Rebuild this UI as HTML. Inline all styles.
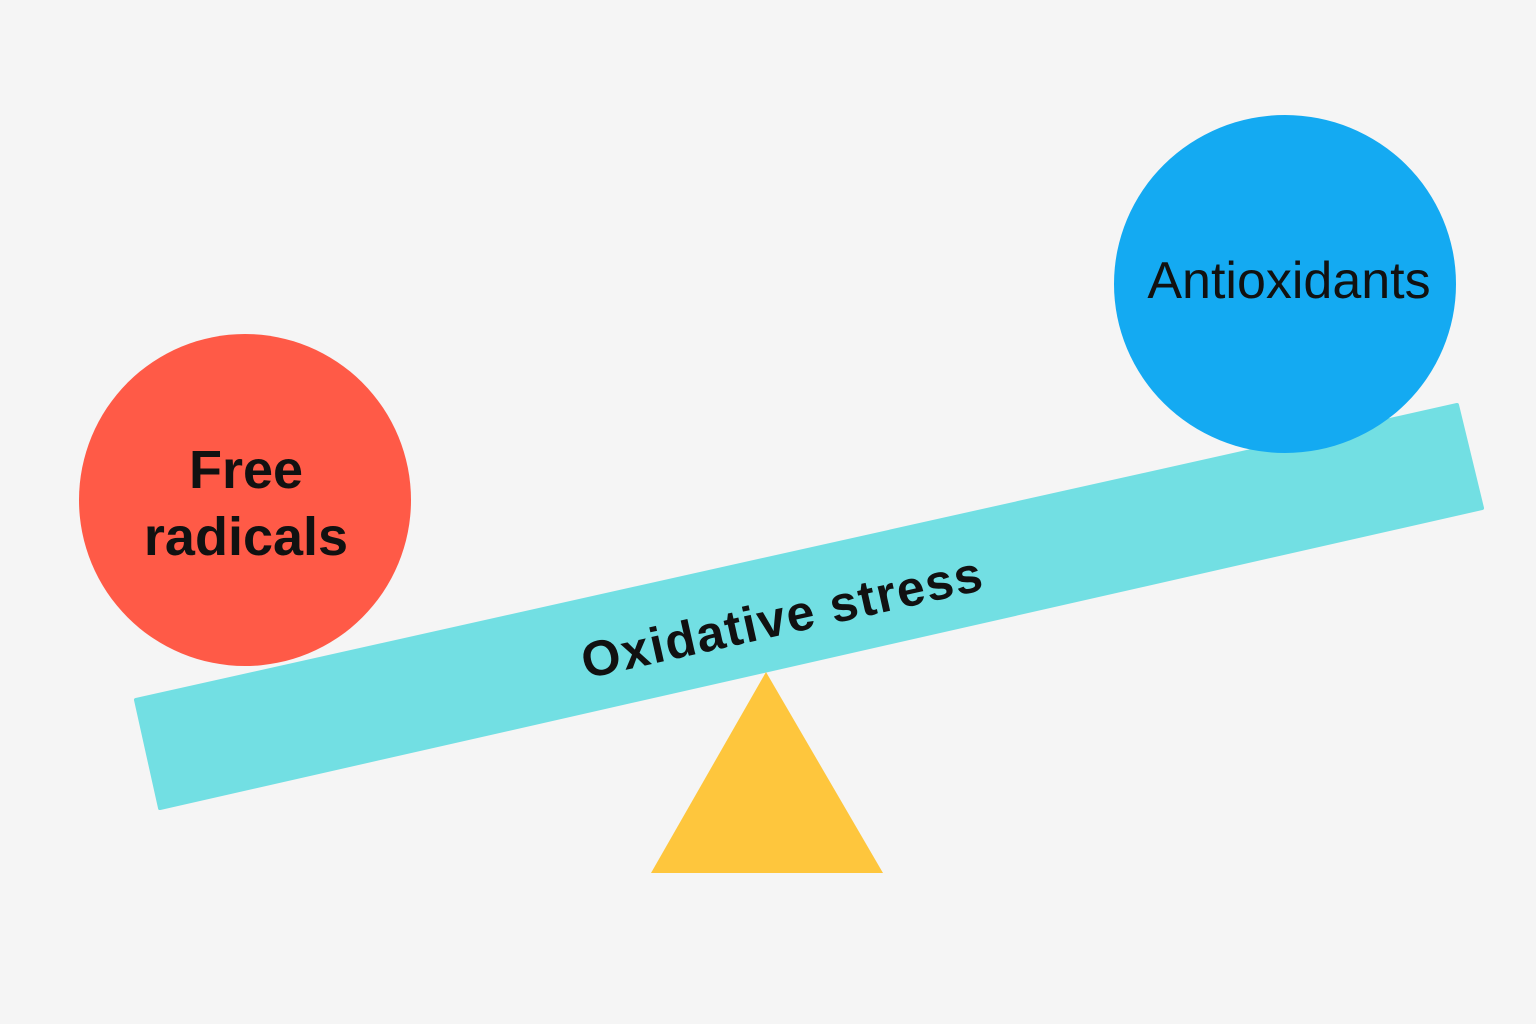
<!DOCTYPE html>
<html><head><meta charset="utf-8"><style>
html,body{margin:0;padding:0;background:#F5F5F5;}
svg{display:block;}
text{font-family:"Liberation Sans","DejaVu Sans",sans-serif;fill:#111;}
</style></head><body>
<svg width="1536" height="1024" viewBox="0 0 1536 1024" xmlns="http://www.w3.org/2000/svg">
<rect width="1536" height="1024" fill="#F5F5F5"/>
<polygon points="136,700 1457,405 1482,508 160,808" fill="#72DFE3" stroke="#72DFE3" stroke-width="4" stroke-linejoin="round"/>
<polygon points="766,672 651,873 883,873" fill="#FEC63D"/>
<circle cx="245" cy="500" r="166" fill="#FF5A47"/>
<ellipse cx="1285" cy="284" rx="171" ry="169" fill="#14AAF2"/>
<text x="246" y="488" font-size="54" font-weight="bold" text-anchor="middle">Free</text>
<text x="246" y="555" font-size="54" font-weight="bold" text-anchor="middle">radicals</text>
<text x="1289" y="298" font-size="52" text-anchor="middle">Antioxidants</text>
<text x="0" y="0" font-size="50" font-weight="bold" text-anchor="middle" letter-spacing="1.5" transform="translate(786,634) rotate(-12.6)">Oxidative stress</text>
</svg>
</body></html>
